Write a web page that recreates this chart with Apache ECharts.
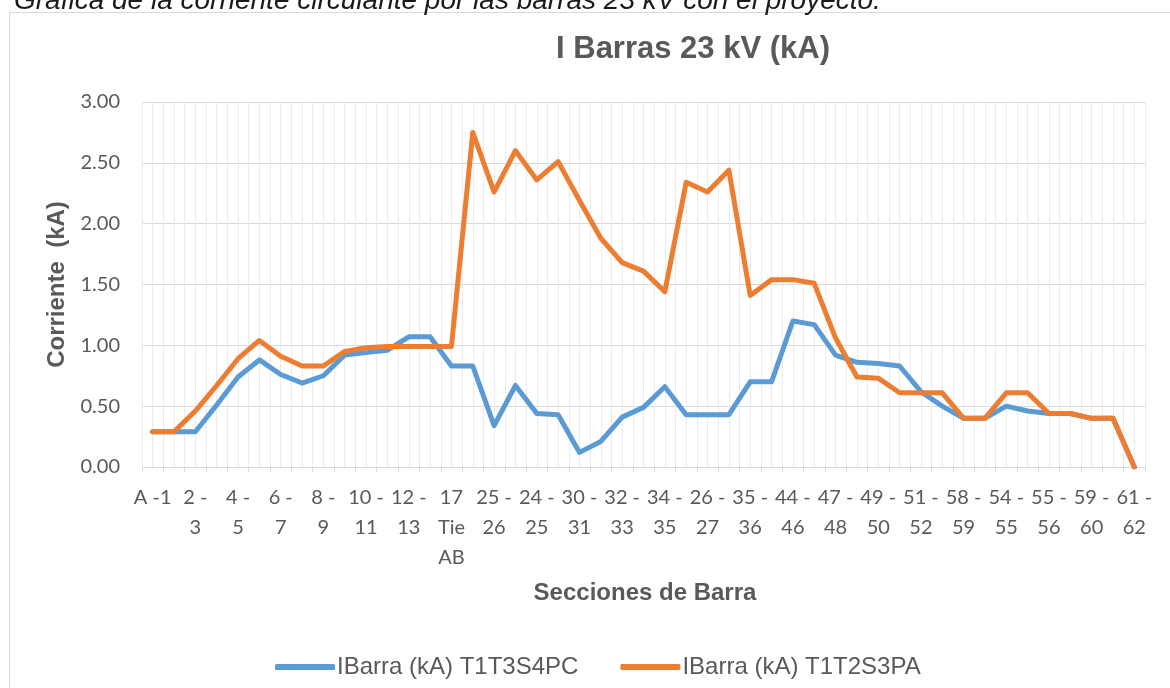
<!DOCTYPE html>
<html>
<head>
<meta charset="utf-8">
<script src="https://cdn.jsdelivr.net/npm/echarts@6/dist/echarts.min.js"></script>
<style>
html,body{margin:0;padding:0;background:#fff;}
#chart{width:1170px;height:688px;}
</style>
</head>
<body>
<div id="chart"></div>
<script>
const categories = ["A -1","1 - 2","2 - 3","3 - 4","4 - 5","5 - 6","6 - 7","7 - 8","8 - 9","9 - 10",
  "10 - 11","11 - 12","12 - 13","13 - 17","17 Tie AB","Tie AB - 25","25 - 26","26 - 24","24 - 25","25 - 30",
  "30 - 31","31 - 32","32 - 33","33 - 34","34 - 35","35 - 26","26 - 27","27 - 35","35 - 36","36 - 44",
  "44 - 46","46 - 47","47 - 48","48 - 49","49 - 50","50 - 51","51 - 52","52 - 58","58 - 59","59 - 54",
  "54 - 55","53 - 55","55 - 56","56 - 59","59 - 60","60 - 61","61 - 62"];
const serieT1T3S4PC = [0.29,0.29,0.29,0.51,0.74,0.88,0.76,0.69,0.75,0.92,
  0.94,0.96,1.07,1.07,0.83,0.83,0.34,0.67,0.44,0.43,
  0.12,0.21,0.41,0.49,0.66,0.43,0.43,0.43,0.70,0.70,
  1.20,1.17,0.92,0.86,0.85,0.83,0.62,0.50,0.40,0.40,
  0.50,0.46,0.44,0.44,0.40,0.40,0.00];
const serieT1T2S3PA = [0.29,0.29,0.46,0.67,0.89,1.04,0.91,0.83,0.83,0.95,
  0.98,0.99,0.99,0.99,0.99,2.75,2.26,2.60,2.36,2.51,
  2.19,1.88,1.68,1.61,1.44,2.34,2.26,2.44,1.41,1.54,
  1.54,1.51,1.06,0.74,0.73,0.61,0.61,0.61,0.40,0.40,
  0.61,0.61,0.44,0.44,0.40,0.40,0.00];
const seriesNames = ["IBarra (kA) T1T3S4PC","IBarra (kA) T1T2S3PA"];
const yTicks = {min:0, max:3, step:0.5};
const chartTitle = "I Barras 23 kV (kA)";
const caption = "Grafica de la corriente circulante por las barras 23 kV con el proyecto.";
const xName = "Secciones de Barra";
const yName = "Corriente  (kA)";

// half-category helper axis for the minor vertical gridlines
const halfCats = [];
categories.forEach(c => { halfCats.push(c + " a"); halfCats.push(c + " b"); });

const chart = echarts.init(document.getElementById('chart'));
const textGray = '#595959';
chart.setOption({
  animation:false,
  backgroundColor:'#ffffff',
  title:{
    text:chartTitle, left:688, top:29, textAlign:'center',
    textStyle:{fontFamily:'Liberation Sans, Arial', fontWeight:'bold', fontSize:31, color:textGray}
  },
  graphic:[
    {type:'rect', silent:true, z:-1, shape:{x:9.5, y:12.5, width:1200, height:700},
     style:{fill:'#ffffff', stroke:'#d9d9d9', lineWidth:1}},
    {type:'text', left:14, top:-13, silent:true,
     style:{text:caption, font:'italic 28px "Liberation Sans", Arial', fill:'#1a1a1a'}},
    {type:'text', x:645, y:593, silent:true,
     style:{text:xName, font:'bold 24px "Liberation Sans", Arial', fill:textGray, align:'center', verticalAlign:'middle'}}
  ],
  legend:{
    left:270, top:650, itemWidth:60, itemHeight:6, itemGap:42,
    icon:'roundRect',
    textStyle:{fontFamily:'Liberation Sans, Arial', fontSize:24, color:textGray, padding:[0,0,0,-3]},
    data:seriesNames
  },
  grid:{left:142, right:25, top:102, bottom:221, containLabel:false},
  xAxis:[
    {type:'category', data:categories, boundaryGap:true,
     axisLine:{lineStyle:{color:'#d9d9d9', width:1}},
     axisTick:{show:true, interval:0, length:5, lineStyle:{color:'#d9d9d9'}},
     axisLabel:{interval:1, color:textGray, fontFamily:'Lato', fontSize:20, lineHeight:30, margin:16,
       formatter:function(v){ return v.indexOf(' - ')>=0 ? v.replace(' - ',' -\n') : (v.indexOf('Tie')>=0 ? v.split(' ').join('\n') : v); }},
     splitLine:{show:false}, z:3},
    {type:'category', data:halfCats, boundaryGap:true, position:'bottom',
     axisLine:{show:false}, axisTick:{show:false}, axisLabel:{show:false},
     splitLine:{show:true, interval:0, lineStyle:{color:'#ebebeb', width:1}}}
  ],
  yAxis:{
    type:'value', min:yTicks.min, max:yTicks.max, interval:yTicks.step,
    name:yName, nameLocation:'middle', nameGap:72, nameRotate:90,
    nameTextStyle:{fontFamily:'Liberation Sans, Arial', fontWeight:'bold', fontSize:24, color:textGray},
    axisLine:{show:false}, axisTick:{show:false},
    axisLabel:{color:textGray, fontFamily:'Lato', fontSize:20, margin:22, formatter:function(v){return v.toFixed(2);}},
    splitLine:{show:true, lineStyle:{color:'#d9d9d9', width:1}}
  },
  series:[
    {name:seriesNames[0], type:'line', data:serieT1T3S4PC, xAxisIndex:0, symbol:'none',
     itemStyle:{color:'#5b9bd5'}, lineStyle:{color:'#5b9bd5', width:5, cap:'round', join:'round'}, z:4},
    {name:seriesNames[1], type:'line', data:serieT1T2S3PA, xAxisIndex:0, symbol:'none',
     itemStyle:{color:'#ed7d31'}, lineStyle:{color:'#ed7d31', width:5, cap:'round', join:'round'}, z:5}
  ]
});
</script>
</body>
</html>
